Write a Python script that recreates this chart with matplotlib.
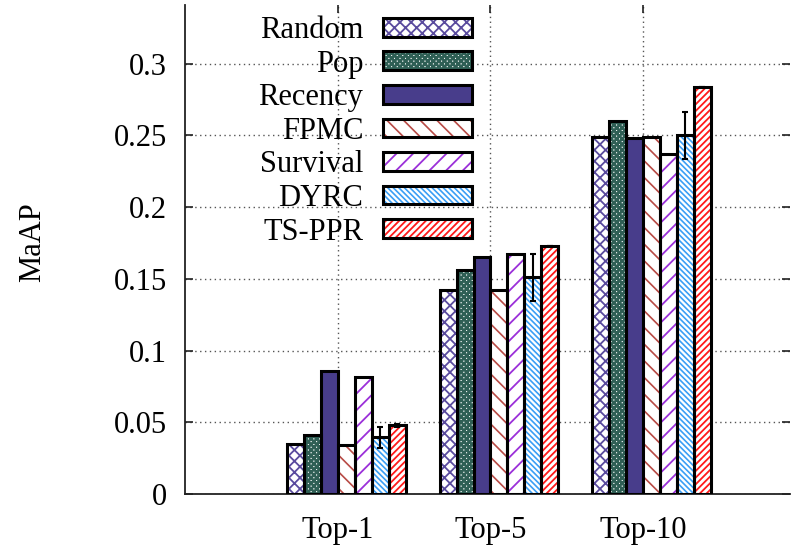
import matplotlib
matplotlib.use("Agg")
import matplotlib.pyplot as plt
import matplotlib.patches as mpatches
from matplotlib.legend_handler import HandlerTuple
import numpy as np

categories = ["Top-1", "Top-5", "Top-10"]
methods = ["Random", "Pop", "Recency", "FPMC", "Survival", "DYRC", "TS-PPR"]
random_v = [0.035, 0.142, 0.249]
pop_v = [0.041, 0.156, 0.260]
recency_v = [0.0855, 0.1655, 0.248]
fpmc_v = [0.034, 0.142, 0.249]
survival_v = [0.0815, 0.1675, 0.237]
dyrc_v = [0.0395, 0.151, 0.250]
tsppr_v = [0.0478, 0.1732, 0.2835]
dyrc_err = [0.0073, 0.0163, 0.0163]
tsppr_err = [0.0008, 0.0, 0.0]
yticks = [0, 0.05, 0.1, 0.15, 0.2, 0.25, 0.3]
ytick_labels = ["0", "0.05", "0.1", "0.15", "0.2", "0.25", "0.3"]

values = [random_v, pop_v, recency_v, fpmc_v, survival_v, dyrc_v, tsppr_v]
errors = [None, None, None, None, None, dyrc_err, tsppr_err]
colors = ["#5a4b9e", "#2f5f55", "#483d8b", "#b84a45", "#9b30d9", "#3a9ef5", "#ff1a1a"]
hatches = ["xxx", "xxxxxx", None, "\\\\", "//", "\\\\\\\\\\\\", "/////"]
hatch_lw = [1.3, 1.9, 1.0, 1.2, 1.3, 1.2, 1.3]

plt.rcParams['font.family'] = ['Liberation Serif', 'DejaVu Serif']
FS = 22

fig = plt.figure(figsize=(7.92, 5.5), dpi=100)
ax = fig.add_axes([185/792, 1 - 494/550, (790-185)/792, (494-5)/550])

x = np.arange(len(categories))
w = 1/9.0
handles = []
for i, (vals, col, h, err, hl) in enumerate(zip(values, colors, hatches, errors, hatch_lw)):
    pos = x + (i - 2.5) * w
    with plt.rc_context({'hatch.linewidth': hl}):
        if h is None:
            ax.bar(pos, vals, width=w, facecolor=col, edgecolor='black', linewidth=2.2, zorder=3)
            hp = mpatches.Patch(facecolor=col, edgecolor='black', linewidth=2.2)
            handles.append(hp)
        else:
            ax.bar(pos, vals, width=w, facecolor='white', edgecolor=col, hatch=h, linewidth=0, zorder=3)
            ax.bar(pos, vals, width=w, facecolor='none', edgecolor='black', linewidth=2.2, zorder=4)
            hp = mpatches.Patch(facecolor='white', edgecolor=col, hatch=h, linewidth=0)
            op = mpatches.Patch(facecolor='none', edgecolor='black', linewidth=2.2)
            handles.append((hp, op))
    if err is not None:
        ax.errorbar(pos, vals, yerr=err, fmt='none', ecolor='black', elinewidth=1.5,
                    capsize=2.5, capthick=1.5, zorder=5)

ax.set_xlim(-1.003, 2.964)
ax.set_ylim(0, 0.341)
ax.set_xticks(x)
ax.set_xticklabels(categories, fontsize=FS)
ax.set_yticks(yticks)
ax.set_yticklabels(ytick_labels, fontsize=FS)
ax.tick_params(axis='both', direction='in', length=6, width=1.2, top=True, right=True, colors='#222222')
ax.tick_params(axis='y', pad=13, labelcolor='black')
ax.tick_params(axis='x', pad=16, labelcolor='black')
for s in ['top', 'right']:
    ax.spines[s].set_visible(False)
for s in ['left', 'bottom']:
    ax.spines[s].set_linewidth(1.3)
    ax.spines[s].set_color('#222222')
ax.grid(True, linestyle=(0, (1, 2.5)), color='#555555', linewidth=1.0, zorder=0)
ax.set_axisbelow(True)

ax.set_ylabel("MaAP", fontsize=FS)
ax.yaxis.set_label_coords(-(185-47)/605, (494-242)/489)

leg = ax.legend(handles, methods, loc='upper right', bbox_to_anchor=(472/792, 1 - 16/550),
                bbox_transform=fig.transFigure, frameon=False, fontsize=FS, markerfirst=False,
                handlelength=2.91, handleheight=0.56, handletextpad=0.65, labelspacing=0.15,
                borderpad=0, borderaxespad=0,
                handler_map={tuple: HandlerTuple(ndivide=1)})
leg.set_zorder(6)

hatch_to_lw = {h: hl for h, hl in zip(hatches, hatch_lw) if h is not None}
for p in leg.findobj(mpatches.Patch):
    hh = p.get_hatch()
    if hh in hatch_to_lw:
        if hasattr(p, 'set_hatch_linewidth'):
            p.set_hatch_linewidth(hatch_to_lw[hh])
        else:
            p._hatch_linewidth = hatch_to_lw[hh]

fig.savefig("out.png", dpi=100)
